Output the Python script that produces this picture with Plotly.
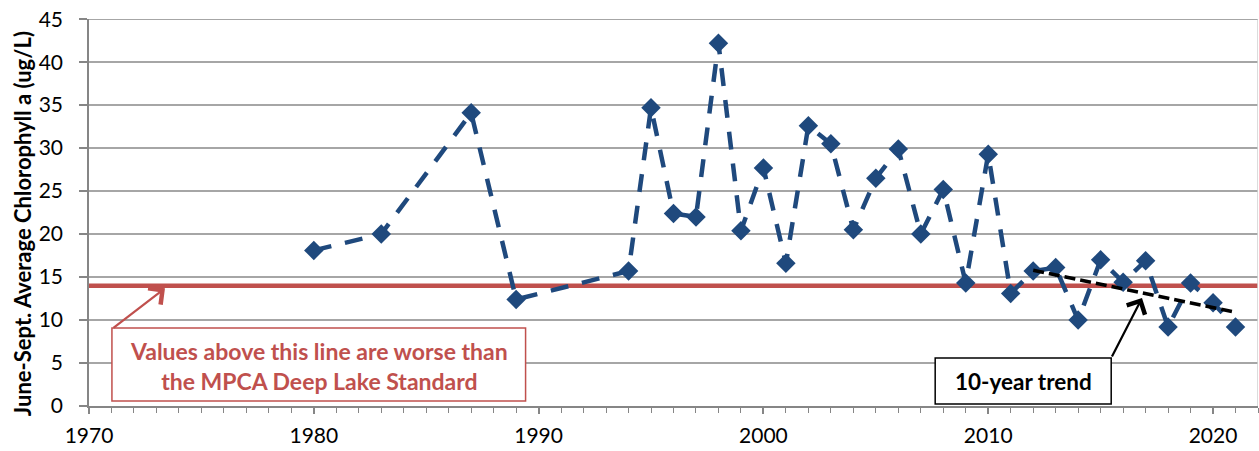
import plotly.graph_objects as go

# ---- data ----
years = [1980, 1983, 1987, 1989, 1994, 1995, 1996, 1997, 1998, 1999, 2000,
         2001, 2002, 2003, 2004, 2005, 2006, 2007, 2008, 2009, 2010, 2011,
         2012, 2013, 2014, 2015, 2016, 2017, 2018, 2019, 2020, 2021]
chl_a = [18.1, 20.0, 34.1, 12.4, 15.7, 34.7, 22.4, 22.0, 42.2, 20.4, 27.7,
         16.6, 32.6, 30.5, 20.5, 26.5, 29.9, 20.0, 25.2, 14.3, 29.3, 13.1,
         15.7, 16.1, 10.0, 17.0, 14.4, 16.9, 9.2, 14.3, 12.0, 9.2]
trend_years = [2012, 2021]
trend_vals = [15.8, 10.9]
standard_value = 14
x_range = [1970, 2022]
y_range = [0, 45.02]
y_ticks = [0, 5, 10, 15, 20, 25, 30, 35, 40, 45]
y_title = "June-Sept. Average Chlorophyll a (ug/L)"
std_note = "Values above this line are worse than<br>the MPCA Deep Lake Standard"
trend_note = "10-year trend"

BLUE = "#1F497D"
RED = "#C0504D"
GRID = "#A6A6A6"
AXIS = "#868686"
FONT = "Lato"

fig = go.Figure()

# top gridline (plotly drops gridlines touching the plot edge)
fig.add_shape(type="line", xref="x", yref="y", x0=x_range[0], x1=x_range[1],
              y0=y_ticks[-1], y1=y_ticks[-1], line=dict(color=GRID, width=1.5),
              layer="below")

# standard line
fig.add_trace(go.Scatter(
    x=x_range, y=[standard_value, standard_value], mode="lines",
    line=dict(color=RED, width=4.5), hoverinfo="skip", showlegend=False,
    cliponaxis=False))

# data series
fig.add_trace(go.Scatter(
    x=years, y=chl_a, mode="lines+markers",
    line=dict(color=BLUE, width=4.5, dash="18px,14px"),
    marker=dict(symbol="diamond", size=15, color=BLUE),
    showlegend=False))

# trend
fig.add_trace(go.Scatter(
    x=trend_years, y=trend_vals, mode="lines",
    line=dict(color="black", width=3.5, dash="11px,5px"),
    showlegend=False))

# right border line
fig.add_shape(type="line", xref="x", yref="y", x0=x_range[1], x1=x_range[1],
              y0=0, y1=y_ticks[-1], line=dict(color="#D0D0D0", width=1.5))

# standard note box
fig.add_shape(type="rect", xref="x", yref="y", x0=1971.02, x1=1989.42,
              y0=0.58, y1=9.07, line=dict(color=RED, width=1.5),
              fillcolor="white", layer="above")
fig.add_annotation(x=1980.22, y=4.6, xref="x", yref="y", text=std_note,
                   showarrow=False, xanchor="center", yanchor="middle",
                   font=dict(family=FONT, size=23, color=RED, weight="bold"))
fig.add_annotation(x=1973.38, y=13.7, ax=1971.02, ay=8.95, xref="x", yref="y",
                   axref="x", ayref="y", text="", showarrow=True,
                   arrowhead=4, arrowsize=1.8, arrowwidth=2.2, arrowcolor=RED)

# trend note box
fig.add_shape(type="rect", xref="x", yref="y", x0=2007.64, x1=2015.47,
              y0=0.23, y1=5.58, line=dict(color="black", width=1.5),
              fillcolor="white", layer="above")
fig.add_annotation(x=2011.55, y=2.9, xref="x", yref="y", text=trend_note,
                   showarrow=False, xanchor="center", yanchor="middle",
                   font=dict(family=FONT, size=22.5, color="black", weight="bold"))
fig.add_annotation(x=2016.84, y=12.56, ax=2015.47, ay=5.58, xref="x", yref="y",
                   axref="x", ayref="y", text="", showarrow=True,
                   arrowhead=4, arrowsize=1.8, arrowwidth=2.2, arrowcolor="black")

# y title
fig.add_annotation(x=-0.0573, y=0.47, xref="paper", yref="paper", text=y_title,
                   textangle=-90, showarrow=False, xanchor="center",
                   yanchor="middle",
                   font=dict(family=FONT, size=22, color="black", weight="bold"))

fig.update_layout(
    width=1259, height=451,
    margin=dict(l=89, r=1, t=19, b=45, autoexpand=False),
    paper_bgcolor="white", plot_bgcolor="white",
    font=dict(family=FONT, size=21, color="black"),
    xaxis=dict(range=x_range, dtick=10, tick0=1970, showgrid=False,
               showline=True, linecolor=AXIS, linewidth=1.5,
               ticks="outside", ticklen=6, tickcolor=AXIS, tickwidth=1.5,
               minor=dict(dtick=1, ticks="outside", ticklen=5,
                          tickcolor=AXIS, tickwidth=1.2),
               tickfont=dict(size=21), ticklabelstandoff=4, zeroline=False,
               ticklabeloverflow="allow", automargin=False),
    yaxis=dict(range=y_range, tickmode="array", tickvals=y_ticks,
               showgrid=True, gridcolor=GRID,
               gridwidth=1.5, showline=True, linecolor=AXIS, linewidth=1.5,
               ticks="outside", ticklen=8, tickcolor=AXIS, tickwidth=1.5,
               tickfont=dict(size=21), ticklabelstandoff=12, zeroline=False,
               ticklabeloverflow="allow", automargin=False),
)

fig.write_html("out.html",
               config={"displayModeBar": False},
               post_script="document.body.style.margin='0';"
                           "document.body.style.overflow='hidden';")
